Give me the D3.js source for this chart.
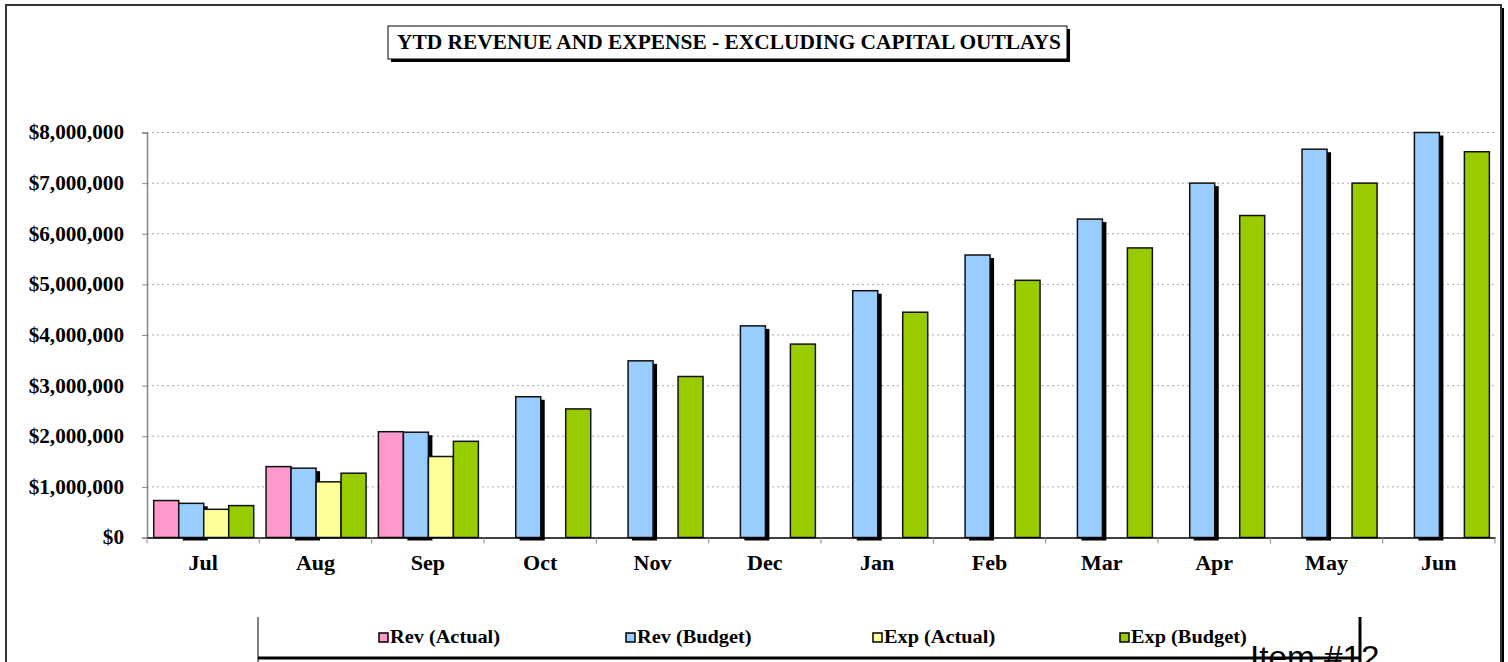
<!DOCTYPE html>
<html>
<head>
<meta charset="utf-8">
<script src="https://cdn.jsdelivr.net/npm/d3@7"></script>
<style>
  body { margin: 0; background: #fff; }
  svg { display: block; }
  text { font-family: "Liberation Serif", "Times New Roman", serif; font-weight: bold; fill: #000; }
</style>
</head>
<body>
<svg></svg>
<script>
var width = 1508;
var height = 662;

// data
var months = ["Jul", "Aug", "Sep", "Oct", "Nov", "Dec", "Jan", "Feb", "Mar", "Apr", "May", "Jun"];
var seriesNames = ["Rev (Actual)", "Rev (Budget)", "Exp (Actual)", "Exp (Budget)"];
var seriesColors = ["#ff99cc", "#99ccff", "#ffff99", "#99cc00"];
var revActual = [730000, 1400000, 2090000, null, null, null, null, null, null, null, null, null];
var revBudget = [675000, 1370000, 2080000, 2780000, 3490000, 4180000, 4875000, 5580000, 6290000, 7000000, 7670000, 8000000];
var expActual = [557000, 1100000, 1600000, null, null, null, null, null, null, null, null, null];
var expBudget = [630000, 1270000, 1900000, 2540000, 3180000, 3820000, 4450000, 5080000, 5720000, 6360000, 7000000, 7620000];
var yTicks = [0, 1000000, 2000000, 3000000, 4000000, 5000000, 6000000, 7000000, 8000000];
var chartTitle = "YTD REVENUE AND EXPENSE - EXCLUDING CAPITAL OUTLAYS";

var allSeries = [revActual, revBudget, expActual, expBudget];

var svg = d3.select("svg").attr("width", width).attr("height", height);

// the source picture has its text drawn wider than normal: scale it sideways
// around its own anchor point
function stretch(sel, k) {
  sel.each(function() {
    var ax = +(this.getAttribute("x") || 0);
    d3.select(this).attr("transform",
      "translate(" + ax + ",0) scale(" + k + ",1) translate(" + (-ax) + ",0)");
  });
}

// outer frame with shadow on the right
svg.append("rect")
  .attr("x", 1501).attr("y", 8).attr("width", 3).attr("height", height)
  .attr("fill", "#000");
svg.append("rect")
  .attr("x", 6).attr("y", 5).attr("width", 1495).attr("height", height + 10)
  .attr("fill", "#fff").attr("stroke", "#333").attr("stroke-width", 2);

var plotLeft = 147, plotRight = 1495, plotTop = 132.5, plotBottom = 537.5;

var x = d3.scaleBand().domain(months).range([plotLeft, plotRight]);
var xs = d3.scaleBand().domain(d3.range(4))
  .range([x.bandwidth() * 0.06, x.bandwidth() * 0.95]);
var y = d3.scaleLinear().domain([0, 8000000]).range([plotBottom, plotTop]).clamp(true);

// grid lines
svg.append("g")
  .selectAll("line")
  .data(yTicks.slice(1))
  .enter().append("line")
  .attr("x1", plotLeft).attr("x2", plotRight)
  .attr("y1", function(d) { return y(d); })
  .attr("y2", function(d) { return y(d); })
  .attr("stroke", "#aaa")
  .attr("stroke-width", 1)
  .attr("stroke-dasharray", "2,3");

// y axis
var yAxis = svg.append("g")
  .attr("transform", "translate(" + plotLeft + ",0)")
  .call(d3.axisLeft(y).tickValues(yTicks).tickSize(5).tickPadding(18)
    .tickFormat(function(d) { return "$" + d3.format(",")(d); }));
yAxis.select(".domain").attr("stroke", "#888").attr("stroke-width", 1.5);
yAxis.selectAll(".tick line").attr("stroke", "#888");
yAxis.selectAll("text")
  .style("font-family", "Liberation Serif")
  .style("font-weight", "bold")
  .style("font-size", "20px");
stretch(yAxis.selectAll("text"), 1.06);

// bars
var groups = svg.append("g");
allSeries.forEach(function(vals, si) {
  var bars = vals.map(function(v, i) { return { month: months[i], value: v }; })
    .filter(function(d) { return d.value != null; });

  if (si === 1) {
    // black shadow behind the budget revenue bars
    groups.append("g").selectAll("rect")
      .data(bars)
      .enter().append("rect")
      .attr("x", function(d) { return x(d.month) + xs(si) + 4; })
      .attr("y", function(d) { return y(d.value) + 3; })
      .attr("width", xs.bandwidth())
      .attr("height", function(d) { return plotBottom - y(d.value); })
      .attr("fill", "#000");
  }

  groups.append("g").selectAll("rect")
    .data(bars)
    .enter().append("rect")
    .attr("x", function(d) { return x(d.month) + xs(si); })
    .attr("y", function(d) { return y(d.value); })
    .attr("width", xs.bandwidth())
    .attr("height", function(d) { return plotBottom - y(d.value); })
    .attr("fill", seriesColors[si])
    .attr("stroke", "#111")
    .attr("stroke-width", 1.5);
});

// x axis
var xAxis = svg.append("g")
  .attr("transform", "translate(0," + plotBottom + ")")
  .call(d3.axisBottom(x).tickSize(0).tickPadding(18));
xAxis.select(".domain").attr("stroke", "#000").attr("stroke-width", 1.5);
xAxis.selectAll("text")
  .style("font-family", "Liberation Serif")
  .style("font-weight", "bold")
  .style("font-size", "21px");
stretch(xAxis.selectAll("text"), 1.05);
// ticks between categories
svg.append("g")
  .selectAll("line")
  .data(months.concat(["end"]))
  .enter().append("line")
  .attr("x1", function(d, i) { return plotLeft + i * x.step(); })
  .attr("x2", function(d, i) { return plotLeft + i * x.step(); })
  .attr("y1", plotBottom).attr("y2", plotBottom + 6)
  .attr("stroke", "#888");

// title box
var titleG = svg.append("g");
titleG.append("rect")
  .attr("x", 391).attr("y", 29).attr("width", 679).attr("height", 33)
  .attr("fill", "#000");
titleG.append("rect")
  .attr("x", 388).attr("y", 26).attr("width", 679).attr("height", 33)
  .attr("fill", "#fff").attr("stroke", "#000").attr("stroke-width", 1);
var title = titleG.append("text")
  .attr("x", 729).attr("y", 49)
  .attr("text-anchor", "middle")
  .style("font-size", "20px")
  .text(chartTitle);
stretch(title, 1.07);

// legend box (cut by the bottom edge)
var legend = svg.append("g");
legend.append("line")
  .attr("x1", 258).attr("x2", 258).attr("y1", 617).attr("y2", 662)
  .attr("stroke", "#000").attr("stroke-width", 1);
legend.append("line")
  .attr("x1", 258).attr("x2", 1360).attr("y1", 658).attr("y2", 658)
  .attr("stroke", "#000").attr("stroke-width", 3);
legend.append("line")
  .attr("x1", 1360).attr("x2", 1360).attr("y1", 617).attr("y2", 662)
  .attr("stroke", "#000").attr("stroke-width", 3);

var item = legend.selectAll(".item")
  .data(seriesNames)
  .enter().append("g")
  .attr("class", "item")
  .attr("transform", function(d, i) { return "translate(" + (379 + i * 247) + ",633)"; });
item.append("rect")
  .attr("width", 9).attr("height", 9)
  .attr("fill", function(d, i) { return seriesColors[i]; })
  .attr("stroke", "#000").attr("stroke-width", 1.5);
var itemText = item.append("text")
  .attr("x", 11).attr("y", 10)
  .style("font-size", "18px")
  .text(function(d) { return d; });
stretch(itemText, 1.13);

// page label
var pageLabel = svg.append("text")
  .attr("x", 1250).attr("y", 668)
  .style("font-family", "Liberation Sans")
  .style("font-weight", "normal")
  .style("font-size", "32px")
  .text("Item #12");
stretch(pageLabel, 1.04);
</script>
</body>
</html>
